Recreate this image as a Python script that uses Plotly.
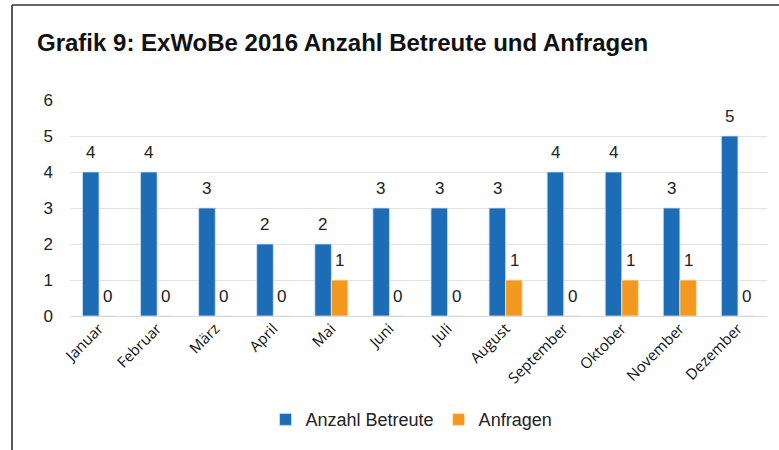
import plotly.graph_objects as go

months = ["Januar", "Februar", "März", "April", "Mai", "Juni", "Juli",
          "August", "September", "Oktober", "November", "Dezember"]
betreute = [4, 4, 3, 2, 2, 3, 3, 3, 4, 4, 3, 5]
anfragen = [0, 0, 0, 0, 1, 0, 0, 1, 0, 1, 1, 0]
y_ticks = [0, 1, 2, 3, 4, 5, 6]

BLUE = "#1c6cb6"
ORANGE = "#f4991f"

fig = go.Figure()
fig.add_trace(go.Bar(x=months, y=betreute, name="Anzahl Betreute",
                     marker=dict(color=BLUE, line=dict(color="#cfe0f0", width=0.8))))
fig.add_trace(go.Bar(x=months, y=anfragen, name="Anfragen",
                     marker=dict(color=ORANGE, line=dict(color="#fbe3c0", width=0.8))))

lab_font = dict(family="Liberation Sans", size=17, color="#222")
annotations = []
for m, v in zip(months, betreute):
    annotations.append(dict(x=m, y=v, text=str(v), showarrow=False, xshift=-8.5,
                            yshift=20, font=lab_font))
for m, v in zip(months, anfragen):
    annotations.append(dict(x=m, y=v, text=str(v), showarrow=False, xshift=8.5,
                            yshift=20, font=lab_font))

fig.update_layout(
    width=779, height=450,
    margin=dict(l=70, r=12, t=100, b=134),
    paper_bgcolor="white", plot_bgcolor="white",
    barmode="group", bargap=0.43, bargroupgap=0,
    title=dict(text="<b>Grafik 9: ExWoBe 2016 Anzahl Betreute und Anfragen</b>",
               x=37 / 779, xref="container", xanchor="left",
               y=1 - 43 / 450, yref="container", yanchor="middle",
               font=dict(family="Liberation Sans", size=24, color="#111")),
    legend=dict(orientation="h", x=0.49, xanchor="center", y=-0.48, yanchor="middle",
                font=dict(family="Liberation Sans", size=18, color="#222"),
                itemwidth=30, traceorder="normal", tracegroupgap=0),
    annotations=annotations,
    showlegend=True,
)
fig.update_xaxes(tickangle=-45, tickfont=dict(family="Open Sans", size=15, color="#111"),
                 showgrid=False, showline=False, ticks="", automargin=False)
fig.update_yaxes(range=[0, 6], tickvals=y_ticks, showgrid=True, gridcolor="#e2e2e2", gridwidth=1,
                 zeroline=True, zerolinecolor="#d8d8d8", zerolinewidth=1,
                 tickfont=dict(family="Liberation Sans", size=17, color="#222"),
                 ticklabelstandoff=16, automargin=False)

# frame around the chart
fig.add_shape(type="line", xref="paper", yref="paper", x0=(12 - 70) / 697, x1=(12 - 70) / 697,
              y0=(316 - 5) / 216, y1=(316 - 452) / 216, line=dict(color="#222", width=1.5))
fig.add_shape(type="line", xref="paper", yref="paper", x0=(12 - 70) / 697, x1=(781 - 70) / 697,
              y0=(316 - 5) / 216, y1=(316 - 5) / 216, line=dict(color="#333", width=1.5))

fig.write_html("out.html", config={"displayModeBar": False},
               post_script="document.body.style.margin='0';")
